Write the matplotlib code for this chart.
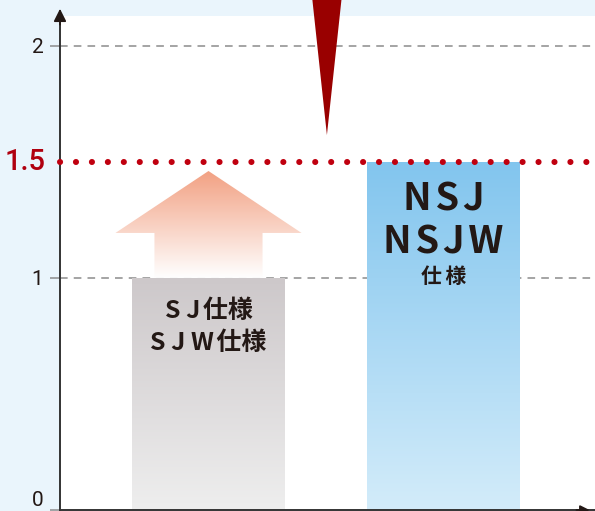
import numpy as np
import matplotlib
matplotlib.use('Agg')
import matplotlib.pyplot as plt
from matplotlib.patches import Polygon
from matplotlib.colors import LinearSegmentedColormap

# data
bar_x = [0, 1]
bar_values = [1.0, 1.5]
bar_top_colors = ['#cdc8ca', '#82c5ee']
bar_bottom_colors = ['#eeeeee', '#d3ecfa']
threshold = 1.5
yticks = [0, 1, 2]
ytick_labels = ['0', '1', '2']

cjk = ['Noto Sans CJK JP', 'DejaVu Sans']
ink = '#231815'
red = '#c0000f'
hair = '\u200a'  # tight letter spacing

fig = plt.figure(figsize=(5.95, 5.11), dpi=100)
fig.patch.set_facecolor('#eaf5fc')
ax = fig.add_axes([60/595, 1/511, 535/595, 494/511])
ax.set_facecolor('white')
ax.set_xlim(-0.632, 1.645)
ax.set_ylim(0, 2.129)

width = 0.651


def gradient_fill(patch, top, bottom, x0, x1, y0, y1, z):
    cmap = LinearSegmentedColormap.from_list('g', [bottom, top])
    grad = np.linspace(0, 1, 256).reshape(-1, 1)
    im = ax.imshow(grad, cmap=cmap, origin='lower', aspect='auto',
                   extent=[x0, x1, y0, y1], zorder=z)
    ax.add_patch(patch)
    im.set_clip_path(patch)


# gridlines
for yv in [1, 2]:
    ax.axhline(yv, color='#8c8c8c', lw=1.1, ls=(0, (5, 4)), zorder=1)

# bars with vertical gradient
bars = ax.bar(bar_x, bar_values, width=width, color='none', zorder=2)
for b, top, bot in zip(bars, bar_top_colors, bar_bottom_colors):
    x0 = b.get_x()
    gradient_fill(plt.Rectangle((x0, 0), width, b.get_height(), fc='none', ec='none'),
                  top, bot, x0, x0 + width, 0, b.get_height(), 2)

# upgrade arrow above the first bar
cx = bar_x[0]
arrow = Polygon([(cx - 0.23, bar_values[0]), (cx - 0.23, 1.194), (cx - 0.396, 1.194),
                 (cx, 1.461), (cx + 0.396, 1.194), (cx + 0.23, 1.194),
                 (cx + 0.23, bar_values[0])], closed=True, fc='none', ec='none')
gradient_fill(arrow, '#f2a183', '#ffffff', cx - 0.4, cx + 0.4, bar_values[0], 1.461, 3)

# dark red wedge from the top
wedge = Polygon([(0.442, 2.2), (0.566, 2.2), (0.504, 1.616)], closed=True,
                fc='#990000', ec='none', clip_on=False, zorder=5)
ax.add_patch(wedge)

# dotted 1.5 line
ax.axhline(threshold, color=red, lw=4.4, ls=(0, (0.01, 2.6)),
           dash_capstyle='round', zorder=6, clip_on=False)

# bar labels
ax.text(bar_x[0], (510-311)/232, 'S J' + hair + '仕様', ha='center', va='center',
        fontsize=18, color=ink, family=cjk, weight='bold')
ax.text(bar_x[0], (510-343)/232, 'S J W' + hair + '仕様', ha='center',
        va='center', fontsize=18, color=ink, family=cjk, weight='bold')
ax.text(bar_x[1], (510-199)/232, hair.join('NSJ'), ha='center', va='center',
        fontsize=27.5, color=ink, family=cjk, weight='bold')
ax.text(bar_x[1], (510-242)/232, hair.join('NSJW'), ha='center', va='center',
        fontsize=27.5, color=ink, family=cjk, weight='bold')
ax.text(bar_x[1], (510-277)/232, '仕' + '\u2006' + '様', ha='center', va='center',
        fontsize=15, color=ink, family=cjk, weight='bold')

# axes
for s in ['top', 'right']:
    ax.spines[s].set_visible(False)
ax.spines['left'].set_color('#333333')
ax.spines['bottom'].set_color('#333333')
ax.spines['left'].set_linewidth(1.4)
ax.spines['bottom'].set_linewidth(1.4)
ax.spines['left'].set_bounds(0, 2.12)
ax.annotate('', xy=(0, 2.172), xytext=(0, 2.08), xycoords=('axes fraction', 'data'),
            arrowprops=dict(arrowstyle='-|>', color='#231815', lw=1.2,
                            mutation_scale=19), annotation_clip=False)
ax.annotate('', xy=(0.995, 0), xytext=(0.96, 0), xycoords=('axes fraction', 'data'),
            arrowprops=dict(arrowstyle='-|>', color='#231815', lw=1.2,
                            mutation_scale=14), annotation_clip=False)

ax.set_xticks([])
ax.set_yticks(yticks)
ax.set_yticklabels(ytick_labels, fontsize=15, color=ink, family='Roboto')
ax.get_yticklabels()[0].set_va('bottom')
ax.tick_params(axis='y', length=7, width=1.1, color='#8c8c8c', pad=5)
ax.text(-0.027, threshold, '1.5', transform=ax.get_yaxis_transform(),
        ha='right', va='center', fontsize=21, color='#b0000f',
        family='Roboto', weight='medium')

fig.savefig('out.png', dpi=100, facecolor=fig.get_facecolor())
